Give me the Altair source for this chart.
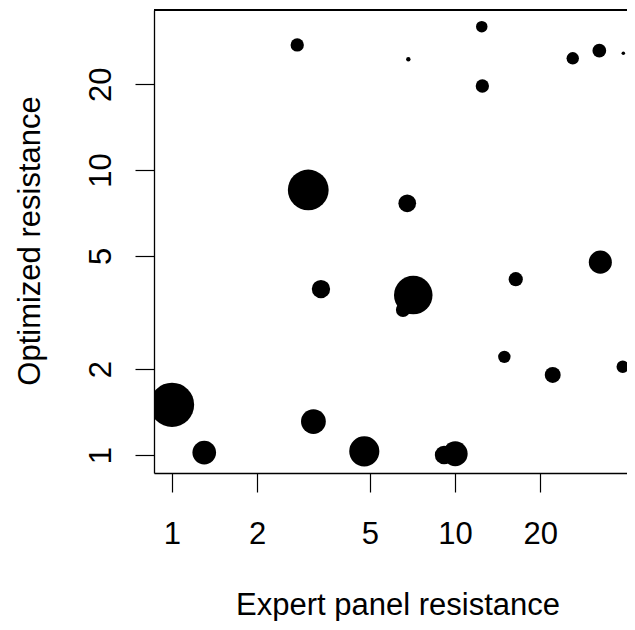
import math
import altair as alt
import pandas as pd

# Data (log-log scatter, point size = weight)
expert = [2.77, 12.43, 6.84, 12.49, 26.06, 32.35, 39.33, 3.03, 6.78, 32.62, 16.39,
          3.36, 7.12, 6.55, 14.94, 22.14, 39.14, 1.00, 3.16, 1.30, 4.78, 10.02, 9.15]
optimized = [27.46, 31.83, 24.46, 19.71, 24.66, 26.21, 25.67, 8.51, 7.64, 4.75, 4.14,
             3.82, 3.64, 3.23, 2.21, 1.91, 2.04, 1.50, 1.31, 1.02, 1.03, 1.01, 1.00]
weight = [1.5, 1.3, 0.5, 1.5, 1.4, 1.55, 0.4, 4.6, 2.0, 2.6, 1.6,
          2.07, 4.35, 1.6, 1.4, 1.8, 1.4, 5.0, 2.8, 2.67, 3.4, 2.8, 2.1]
tick_values = [1, 2, 5, 10, 20]

df = pd.DataFrame({"expert": expert, "optimized": optimized, "weight": weight})

W, H = 473, 463
FONT = "Liberation Sans"
FS = 31

points = alt.Chart(df).mark_circle(color="black", opacity=1, clip=True).encode(
    x=alt.X("expert:Q",
            scale=alt.Scale(type="log", domain=[0.8638, 40.52], nice=False, zero=False),
            axis=alt.Axis(values=tick_values, format="d", grid=False,
                          tickSize=19, tickWidth=1.2, tickColor="black",
                          domainColor="black", domainWidth=1.3,
                          labelFont=FONT, labelFontSize=FS, labelColor="black",
                          labelPadding=51, labelBaseline="alphabetic",
                          labelFlush=False, labelOverlap=False,
                          title="Expert panel resistance", titleFont=FONT,
                          titleFontSize=FS, titleFontWeight="normal", titleColor="black",
                          titleX=243.5, titleY=141, titleBaseline="alphabetic",
                          titleAlign="center")),
    y=alt.Y("optimized:Q",
            scale=alt.Scale(type="log", domain=[0.8647, 36.42], nice=False, zero=False),
            axis=alt.Axis(values=tick_values, format="d", grid=False,
                          tickSize=19, tickWidth=1.2, tickColor="black",
                          domainColor="black", domainWidth=1.3,
                          labelFont=FONT, labelFontSize=FS, labelColor="black",
                          labelPadding=25, labelAngle=270, labelAlign="center",
                          labelBaseline="alphabetic",
                          labelFlush=False, labelOverlap=False,
                          title="Optimized resistance", titleFont=FONT,
                          titleFontSize=FS, titleFontWeight="normal", titleColor="black",
                          titleAngle=270, titleX=-115, titleY=H / 2 - 1,
                          titleBaseline="alphabetic", titleAlign="center")),
    size=alt.Size("weight:Q",
                  scale=alt.Scale(type="pow", exponent=2, domain=[0, 5],
                                  range=[0, math.pi / 4 * 50 * 50]),
                  legend=None),
)

top_border = alt.Chart(df).mark_rule(color="black", strokeWidth=1.3).encode(
    x=alt.value(0), x2=alt.value(W), y=alt.value(0)
)

chart = (points + top_border).properties(
    width=W, height=H,
    autosize=alt.AutoSizeParams(type="none"),
    padding={"left": 146, "top": 2, "right": 0, "bottom": 148},
).configure_view(stroke="transparent")

chart.save("out.html", embed_options={"renderer": "svg", "actions": False})
